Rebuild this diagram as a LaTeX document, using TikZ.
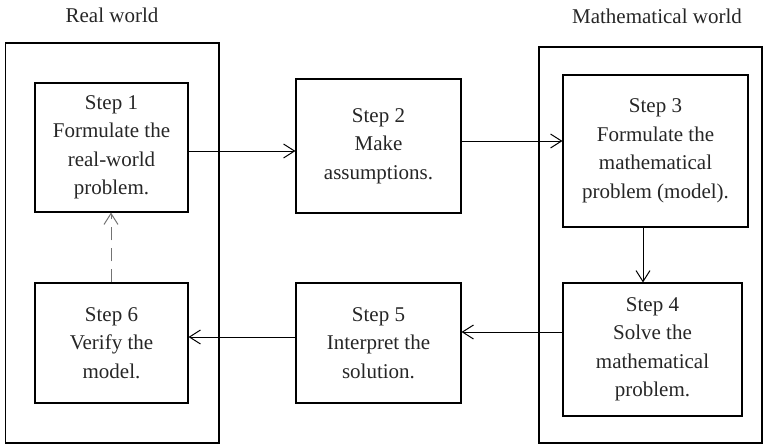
\documentclass[tikz,border=0pt]{standalone}
\usepackage{fontspec}
\setmainfont{Liberation Serif}
\usetikzlibrary{arrows.meta}
\tikzset{
  stepbox/.style={draw, line width=1.1pt, align=center, inner sep=0pt,
    font=\fontsize{21}{28.5}\selectfont, text=black!85},
  world/.style={draw, line width=1.1pt},
  lbl/.style={font=\fontsize{21}{25}\selectfont, text=black!85, anchor=base},
  arr/.style={line width=1pt, -{Straight Barb[length=11pt,width=14pt,line width=1pt]}},
  dasharr/.style={line width=1pt, draw=black!55, dash pattern=on 13pt off 8pt,
    -{Straight Barb[length=11pt,width=14pt,line width=1pt]}}
}
\begin{document}
\begin{tikzpicture}[x=1pt,y=-1pt]
\useasboundingbox (0,0) rectangle (763,445);
% world frames
\draw[world] (5.5,43) rectangle (219,443);
\draw[world] (539,47) rectangle (762,443);
\node[lbl] (rw) at (112,22) {Real world};
\node[lbl] (mw) at (657,23) {Mathematical world};
% steps
\node[stepbox, minimum width=153pt, minimum height=129pt] (s1) at (111.5,147.5)
  {Step 1\\Formulate the\\real-world\\problem.};
\node[stepbox, minimum width=165pt, minimum height=134pt] (s2) at (378.5,146)
  {Step 2\\Make\\assumptions.};
\node[stepbox, minimum width=185pt, minimum height=152pt] (s3) at (655.5,151)
  {Step 3\\Formulate the\\mathematical\\problem (model).};
\node[stepbox, minimum width=179pt, minimum height=133pt] (s4) at (652.5,349.5)
  {Step 4\\Solve the\\mathematical\\problem.};
\node[stepbox, minimum width=165pt, minimum height=120pt] (s5) at (378.5,343)
  {Step 5\\Interpret the\\solution.};
\node[stepbox, minimum width=153pt, minimum height=120pt] (s6) at (111.5,343)
  {Step 6\\Verify the\\model.};
% connector levels
\coordinate (y12) at (0,151);
\coordinate (y23) at (0,141);
\coordinate (x34) at (643,0);
\coordinate (y45) at (0,332);
\coordinate (y56) at (0,337);
\coordinate (x61) at (111,0);
\draw[arr] (s1.east |- y12) -- (s2.west |- y12);
\draw[arr] (s2.east |- y23) -- (s3.west |- y23);
\draw[arr] (s3.south -| x34) -- (s4.north -| x34);
\draw[arr] (s4.west |- y45) -- (s5.east |- y45);
\draw[arr] (s5.west |- y56) -- (s6.east |- y56);
\draw[dasharr] (s6.north -| x61) -- (s1.south -| x61);
\end{tikzpicture}
\end{document}
